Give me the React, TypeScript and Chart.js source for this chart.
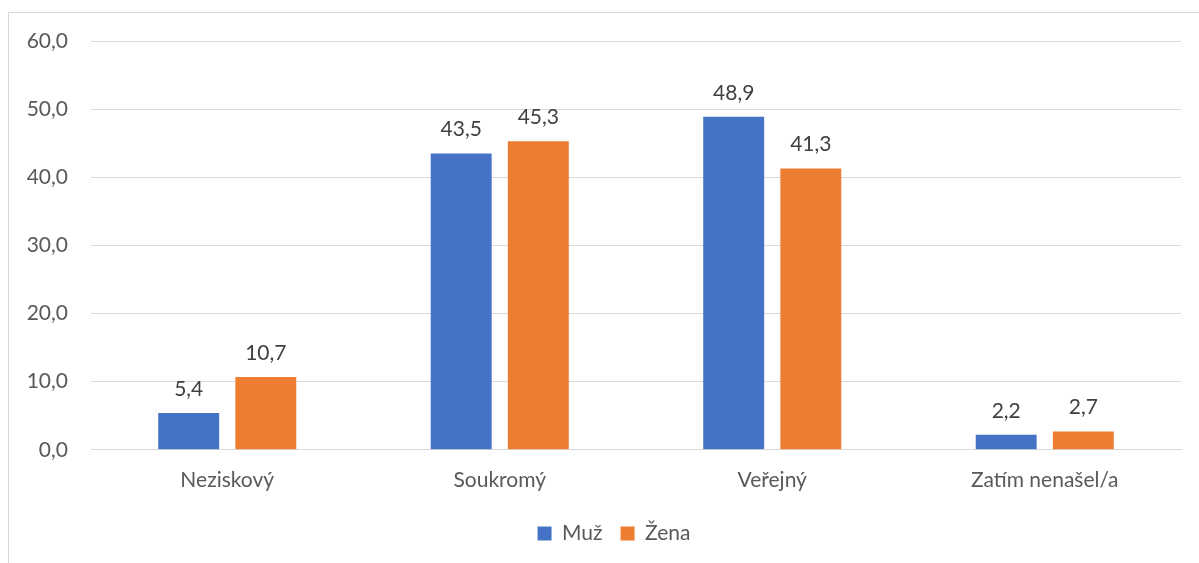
import React, { useEffect, useRef } from "react";
import { Chart, registerables } from "chart.js";

Chart.register(...registerables);

const categories = ["Neziskový", "Soukromý", "Veřejný", "Zatím nenašel/a"];
const seriesNames = ["Muž", "Žena"];
const muzValues = [5.4, 43.5, 48.9, 2.2];
const zenaValues = [10.7, 45.3, 41.3, 2.7];
const yTicks = [0, 10, 20, 30, 40, 50, 60];

const FONT = "Lato, 'Open Sans', sans-serif";
const fmt = (v: number) => v.toFixed(1).replace(".", ",");

const dataLabelPlugin = {
  id: "dataLabels",
  afterDatasetsDraw(chart: any) {
    const ctx = chart.ctx;
    ctx.save();
    ctx.font = `21px ${FONT}`;
    ctx.fillStyle = "#404040";
    ctx.textAlign = "center";
    ctx.textBaseline = "alphabetic";
    chart.data.datasets.forEach((ds: any, i: number) => {
      const meta = chart.getDatasetMeta(i);
      meta.data.forEach((el: any, j: number) => {
        ctx.fillText(fmt(ds.data[j]), el.x, el.y - 17);
      });
    });
    ctx.restore();
  },
};

export default function App() {
  const ref = useRef<HTMLCanvasElement>(null);
  useEffect(() => {
    if (!ref.current) return;
    const chart = new Chart(ref.current, {
      type: "bar",
      data: {
        labels: categories,
        datasets: [
          {
            label: seriesNames[0],
            data: muzValues,
            backgroundColor: "#4472C4",
            categoryPercentage: 0.566,
            barPercentage: 0.79,
          },
          {
            label: seriesNames[1],
            data: zenaValues,
            backgroundColor: "#ED7D31",
            categoryPercentage: 0.566,
            barPercentage: 0.79,
          },
        ],
      },
      options: {
        animation: false,
        responsive: false,
        maintainAspectRatio: false,
        layout: { padding: { top: 28, right: 0, left: 0, bottom: 11 } },
        plugins: {
          tooltip: { enabled: false },
          legend: {
            position: "bottom",
            labels: {
              font: { family: FONT, size: 21 },
              color: "#595959",
              boxWidth: 14,
              boxHeight: 14,
              padding: 18,
            },
          },
        },
        scales: {
          x: {
            grid: { display: false, drawTicks: false },
            border: { display: true, color: "#d9d9d9", width: 1 },
            ticks: {
              font: { family: FONT, size: 21 },
              color: "#595959",
              padding: 18,
            },
            afterFit: (scale: any) => {
              scale.height = scale.height - 6;
            },
          },
          y: {
            min: 0,
            max: 60,
            afterBuildTicks: (scale: any) => {
              scale.ticks = yTicks.map((v) => ({ value: v }));
            },
            afterFit: (scale: any) => {
              scale.width = 82;
              scale.paddingTop = 0;
              scale.paddingBottom = 0;
            },
            grid: { color: "#d9d9d9", lineWidth: 1, drawTicks: false },
            border: { display: false },
            ticks: {
              font: { family: FONT, size: 21 },
              color: "#595959",
              padding: 23,
              callback: (v: any) => fmt(Number(v)),
            },
          },
          spacer: {
            type: "linear",
            position: "right",
            display: true,
            afterFit: (scale: any) => {
              scale.width = 38;
              scale.paddingTop = 0;
              scale.paddingBottom = 0;
            },
            grid: { display: false, drawTicks: false },
            border: { display: false },
            ticks: { display: false },
          },
        },
      },
      plugins: [dataLabelPlugin],
    });
    return () => chart.destroy();
  }, []);

  return (
    <div style={{ position: "fixed", inset: 0, overflow: "hidden", background: "#fff" }}>
      <div
        style={{
          position: "absolute",
          left: 8,
          top: 12,
          width: 1212,
          height: 554,
          border: "1px solid #d9d9d9",
          boxSizing: "border-box",
        }}
      >
        <canvas ref={ref} width={1210} height={552} style={{ display: "block" }} />
      </div>
    </div>
  );
}
